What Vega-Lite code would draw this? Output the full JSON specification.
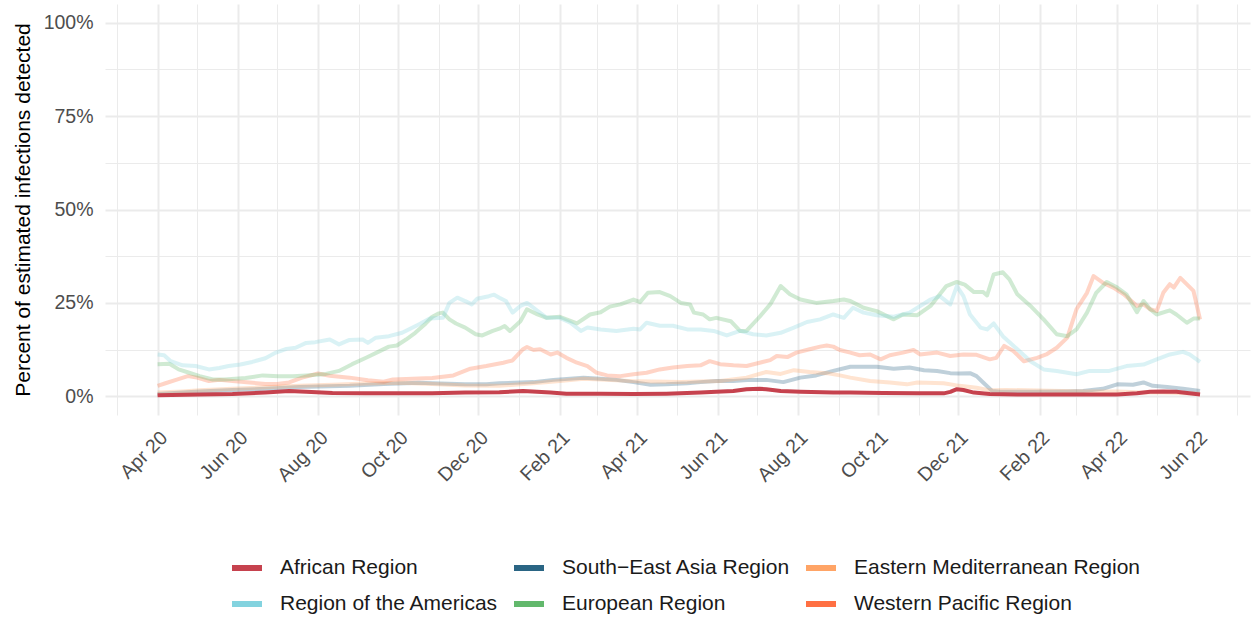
{
"$schema":"https://vega.github.io/schema/vega-lite/v6.json",
"autosize":{"type":"none"},
"padding":{"left":105,"top":4,"right":2,"bottom":202},
"width":1145,"height":411,
"config":{"font":"Liberation Sans","view":{"stroke":null}},
"data":{"values":[
{"d":"2020-04-01","r":"African Region","v":0.3},{"d":"2020-05-03","r":"African Region","v":0.5},{"d":"2020-05-28","r":"African Region","v":0.6},{"d":"2020-06-22","r":"African Region","v":1.0},{"d":"2020-07-10","r":"African Region","v":1.4},{"d":"2020-07-23","r":"African Region","v":1.2},{"d":"2020-08-12","r":"African Region","v":0.9},{"d":"2020-09-06","r":"African Region","v":0.8},{"d":"2020-10-02","r":"African Region","v":0.8},{"d":"2020-10-27","r":"African Region","v":0.8},{"d":"2020-11-21","r":"African Region","v":1.0},{"d":"2020-12-17","r":"African Region","v":1.1},{"d":"2021-01-04","r":"African Region","v":1.4},{"d":"2021-01-25","r":"African Region","v":1.0},{"d":"2021-02-06","r":"African Region","v":0.7},{"d":"2021-03-04","r":"African Region","v":0.7},{"d":"2021-03-29","r":"African Region","v":0.6},{"d":"2021-04-23","r":"African Region","v":0.7},{"d":"2021-05-19","r":"African Region","v":1.0},{"d":"2021-05-31","r":"African Region","v":1.2},{"d":"2021-06-13","r":"African Region","v":1.4},{"d":"2021-06-23","r":"African Region","v":1.9},{"d":"2021-07-03","r":"African Region","v":2.0},{"d":"2021-07-08","r":"African Region","v":1.9},{"d":"2021-07-19","r":"African Region","v":1.4},{"d":"2021-08-03","r":"African Region","v":1.2},{"d":"2021-08-28","r":"African Region","v":1.0},{"d":"2021-09-10","r":"African Region","v":1.0},{"d":"2021-10-05","r":"African Region","v":0.9},{"d":"2021-10-31","r":"African Region","v":0.8},{"d":"2021-11-20","r":"African Region","v":0.8},{"d":"2021-11-25","r":"African Region","v":1.2},{"d":"2021-11-30","r":"African Region","v":1.9},{"d":"2021-12-05","r":"African Region","v":1.7},{"d":"2021-12-13","r":"African Region","v":1.0},{"d":"2021-12-25","r":"African Region","v":0.6},{"d":"2022-01-15","r":"African Region","v":0.5},{"d":"2022-02-09","r":"African Region","v":0.5},{"d":"2022-03-06","r":"African Region","v":0.5},{"d":"2022-04-01","r":"African Region","v":0.5},{"d":"2022-04-16","r":"African Region","v":0.8},{"d":"2022-04-26","r":"African Region","v":1.2},{"d":"2022-05-06","r":"African Region","v":1.3},{"d":"2022-05-16","r":"African Region","v":1.2},{"d":"2022-06-03","r":"African Region","v":0.5},
{"d":"2020-04-01","r":"South−East Asia Region","v":0.6},{"d":"2020-05-03","r":"South−East Asia Region","v":1.3},{"d":"2020-05-28","r":"South−East Asia Region","v":1.7},{"d":"2020-06-22","r":"South−East Asia Region","v":2.0},{"d":"2020-07-18","r":"South−East Asia Region","v":2.5},{"d":"2020-08-25","r":"South−East Asia Region","v":2.8},{"d":"2020-09-20","r":"South−East Asia Region","v":3.3},{"d":"2020-10-17","r":"South−East Asia Region","v":3.6},{"d":"2020-10-27","r":"South−East Asia Region","v":3.5},{"d":"2020-11-21","r":"South−East Asia Region","v":3.2},{"d":"2020-12-07","r":"South−East Asia Region","v":3.2},{"d":"2020-12-17","r":"South−East Asia Region","v":3.5},{"d":"2021-01-12","r":"South−East Asia Region","v":3.8},{"d":"2021-01-27","r":"South−East Asia Region","v":4.4},{"d":"2021-02-19","r":"South−East Asia Region","v":5.0},{"d":"2021-03-04","r":"South−East Asia Region","v":4.7},{"d":"2021-03-16","r":"South−East Asia Region","v":4.4},{"d":"2021-03-29","r":"South−East Asia Region","v":3.8},{"d":"2021-04-11","r":"South−East Asia Region","v":3.1},{"d":"2021-04-23","r":"South−East Asia Region","v":3.2},{"d":"2021-05-09","r":"South−East Asia Region","v":3.5},{"d":"2021-05-19","r":"South−East Asia Region","v":3.8},{"d":"2021-05-31","r":"South−East Asia Region","v":4.1},{"d":"2021-06-13","r":"South−East Asia Region","v":4.1},{"d":"2021-06-26","r":"South−East Asia Region","v":4.4},{"d":"2021-07-08","r":"South−East Asia Region","v":4.4},{"d":"2021-07-21","r":"South−East Asia Region","v":3.8},{"d":"2021-08-03","r":"South−East Asia Region","v":5.0},{"d":"2021-08-15","r":"South−East Asia Region","v":5.6},{"d":"2021-08-28","r":"South−East Asia Region","v":6.8},{"d":"2021-09-10","r":"South−East Asia Region","v":7.9},{"d":"2021-09-30","r":"South−East Asia Region","v":7.9},{"d":"2021-10-13","r":"South−East Asia Region","v":7.4},{"d":"2021-10-25","r":"South−East Asia Region","v":7.7},{"d":"2021-11-05","r":"South−East Asia Region","v":7.0},{"d":"2021-11-15","r":"South−East Asia Region","v":6.8},{"d":"2021-11-25","r":"South−East Asia Region","v":6.2},{"d":"2021-12-02","r":"South−East Asia Region","v":6.1},{"d":"2021-12-10","r":"South−East Asia Region","v":6.2},{"d":"2021-12-15","r":"South−East Asia Region","v":5.4},{"d":"2021-12-20","r":"South−East Asia Region","v":3.7},{"d":"2021-12-27","r":"South−East Asia Region","v":1.4},{"d":"2022-01-02","r":"South−East Asia Region","v":1.2},{"d":"2022-01-27","r":"South−East Asia Region","v":1.2},{"d":"2022-02-22","r":"South−East Asia Region","v":1.3},{"d":"2022-03-06","r":"South−East Asia Region","v":1.4},{"d":"2022-03-21","r":"South−East Asia Region","v":2.0},{"d":"2022-04-01","r":"South−East Asia Region","v":3.2},{"d":"2022-04-13","r":"South−East Asia Region","v":3.1},{"d":"2022-04-21","r":"South−East Asia Region","v":3.7},{"d":"2022-04-28","r":"South−East Asia Region","v":2.8},{"d":"2022-05-09","r":"South−East Asia Region","v":2.5},{"d":"2022-05-21","r":"South−East Asia Region","v":2.0},{"d":"2022-06-03","r":"South−East Asia Region","v":1.4},
{"d":"2020-04-01","r":"Eastern Mediterranean Region","v":1.0},{"d":"2020-04-20","r":"Eastern Mediterranean Region","v":1.3},{"d":"2020-05-03","r":"Eastern Mediterranean Region","v":1.6},{"d":"2020-05-28","r":"Eastern Mediterranean Region","v":2.0},{"d":"2020-06-22","r":"Eastern Mediterranean Region","v":2.4},{"d":"2020-07-18","r":"Eastern Mediterranean Region","v":2.8},{"d":"2020-08-12","r":"Eastern Mediterranean Region","v":3.1},{"d":"2020-09-06","r":"Eastern Mediterranean Region","v":3.4},{"d":"2020-10-02","r":"Eastern Mediterranean Region","v":3.6},{"d":"2020-10-27","r":"Eastern Mediterranean Region","v":3.3},{"d":"2020-11-21","r":"Eastern Mediterranean Region","v":2.9},{"d":"2020-12-17","r":"Eastern Mediterranean Region","v":2.8},{"d":"2021-01-12","r":"Eastern Mediterranean Region","v":3.5},{"d":"2021-02-01","r":"Eastern Mediterranean Region","v":4.1},{"d":"2021-02-19","r":"Eastern Mediterranean Region","v":4.7},{"d":"2021-03-04","r":"Eastern Mediterranean Region","v":4.5},{"d":"2021-04-01","r":"Eastern Mediterranean Region","v":4.0},{"d":"2021-05-04","r":"Eastern Mediterranean Region","v":3.8},{"d":"2021-06-03","r":"Eastern Mediterranean Region","v":4.1},{"d":"2021-06-23","r":"Eastern Mediterranean Region","v":5.0},{"d":"2021-07-08","r":"Eastern Mediterranean Region","v":6.5},{"d":"2021-07-19","r":"Eastern Mediterranean Region","v":6.0},{"d":"2021-07-29","r":"Eastern Mediterranean Region","v":7.0},{"d":"2021-08-10","r":"Eastern Mediterranean Region","v":6.5},{"d":"2021-08-23","r":"Eastern Mediterranean Region","v":6.2},{"d":"2021-09-02","r":"Eastern Mediterranean Region","v":5.6},{"d":"2021-09-10","r":"Eastern Mediterranean Region","v":5.0},{"d":"2021-09-25","r":"Eastern Mediterranean Region","v":4.1},{"d":"2021-10-10","r":"Eastern Mediterranean Region","v":3.7},{"d":"2021-10-23","r":"Eastern Mediterranean Region","v":3.2},{"d":"2021-10-31","r":"Eastern Mediterranean Region","v":3.7},{"d":"2021-11-20","r":"Eastern Mediterranean Region","v":3.5},{"d":"2021-12-02","r":"Eastern Mediterranean Region","v":2.8},{"d":"2021-12-15","r":"Eastern Mediterranean Region","v":2.3},{"d":"2021-12-25","r":"Eastern Mediterranean Region","v":1.6},{"d":"2022-01-07","r":"Eastern Mediterranean Region","v":1.7},{"d":"2022-02-09","r":"Eastern Mediterranean Region","v":1.5},{"d":"2022-03-09","r":"Eastern Mediterranean Region","v":1.3},{"d":"2022-04-01","r":"Eastern Mediterranean Region","v":1.3},{"d":"2022-04-21","r":"Eastern Mediterranean Region","v":1.0},{"d":"2022-05-06","r":"Eastern Mediterranean Region","v":1.0},{"d":"2022-06-03","r":"Eastern Mediterranean Region","v":0.7},
{"d":"2020-04-01","r":"Western Pacific Region","v":2.8},{"d":"2020-04-07","r":"Western Pacific Region","v":3.5},{"d":"2020-04-15","r":"Western Pacific Region","v":4.4},{"d":"2020-04-24","r":"Western Pacific Region","v":5.4},{"d":"2020-05-01","r":"Western Pacific Region","v":5.0},{"d":"2020-05-10","r":"Western Pacific Region","v":4.1},{"d":"2020-05-18","r":"Western Pacific Region","v":4.4},{"d":"2020-05-28","r":"Western Pacific Region","v":4.1},{"d":"2020-06-10","r":"Western Pacific Region","v":3.7},{"d":"2020-06-22","r":"Western Pacific Region","v":3.3},{"d":"2020-07-01","r":"Western Pacific Region","v":3.3},{"d":"2020-07-10","r":"Western Pacific Region","v":3.7},{"d":"2020-07-20","r":"Western Pacific Region","v":5.0},{"d":"2020-08-01","r":"Western Pacific Region","v":6.1},{"d":"2020-08-10","r":"Western Pacific Region","v":5.5},{"d":"2020-08-25","r":"Western Pacific Region","v":5.0},{"d":"2020-09-08","r":"Western Pacific Region","v":4.3},{"d":"2020-09-20","r":"Western Pacific Region","v":3.9},{"d":"2020-09-27","r":"Western Pacific Region","v":4.5},{"d":"2020-10-12","r":"Western Pacific Region","v":4.7},{"d":"2020-10-27","r":"Western Pacific Region","v":4.9},{"d":"2020-11-12","r":"Western Pacific Region","v":5.6},{"d":"2020-11-25","r":"Western Pacific Region","v":7.4},{"d":"2020-12-07","r":"Western Pacific Region","v":8.1},{"d":"2020-12-20","r":"Western Pacific Region","v":9.0},{"d":"2020-12-27","r":"Western Pacific Region","v":9.6},{"d":"2021-01-04","r":"Western Pacific Region","v":12.6},{"d":"2021-01-07","r":"Western Pacific Region","v":13.2},{"d":"2021-01-12","r":"Western Pacific Region","v":12.4},{"d":"2021-01-17","r":"Western Pacific Region","v":12.6},{"d":"2021-01-25","r":"Western Pacific Region","v":11.2},{"d":"2021-01-30","r":"Western Pacific Region","v":11.7},{"d":"2021-02-06","r":"Western Pacific Region","v":10.3},{"d":"2021-02-14","r":"Western Pacific Region","v":9.0},{"d":"2021-02-22","r":"Western Pacific Region","v":8.1},{"d":"2021-03-01","r":"Western Pacific Region","v":6.3},{"d":"2021-03-09","r":"Western Pacific Region","v":5.6},{"d":"2021-03-19","r":"Western Pacific Region","v":5.4},{"d":"2021-03-29","r":"Western Pacific Region","v":5.9},{"d":"2021-04-08","r":"Western Pacific Region","v":6.3},{"d":"2021-04-18","r":"Western Pacific Region","v":7.2},{"d":"2021-04-28","r":"Western Pacific Region","v":7.7},{"d":"2021-05-09","r":"Western Pacific Region","v":8.1},{"d":"2021-05-19","r":"Western Pacific Region","v":8.3},{"d":"2021-05-26","r":"Western Pacific Region","v":9.4},{"d":"2021-06-03","r":"Western Pacific Region","v":8.6},{"d":"2021-06-13","r":"Western Pacific Region","v":8.3},{"d":"2021-06-23","r":"Western Pacific Region","v":8.1},{"d":"2021-07-03","r":"Western Pacific Region","v":9.0},{"d":"2021-07-11","r":"Western Pacific Region","v":9.7},{"d":"2021-07-16","r":"Western Pacific Region","v":10.8},{"d":"2021-07-24","r":"Western Pacific Region","v":10.5},{"d":"2021-07-31","r":"Western Pacific Region","v":11.7},{"d":"2021-08-10","r":"Western Pacific Region","v":12.6},{"d":"2021-08-18","r":"Western Pacific Region","v":13.3},{"d":"2021-08-23","r":"Western Pacific Region","v":13.6},{"d":"2021-08-28","r":"Western Pacific Region","v":13.3},{"d":"2021-09-02","r":"Western Pacific Region","v":12.4},{"d":"2021-09-10","r":"Western Pacific Region","v":11.7},{"d":"2021-09-17","r":"Western Pacific Region","v":11.0},{"d":"2021-09-25","r":"Western Pacific Region","v":11.2},{"d":"2021-10-03","r":"Western Pacific Region","v":9.9},{"d":"2021-10-10","r":"Western Pacific Region","v":11.0},{"d":"2021-10-20","r":"Western Pacific Region","v":11.7},{"d":"2021-10-28","r":"Western Pacific Region","v":12.4},{"d":"2021-11-02","r":"Western Pacific Region","v":11.2},{"d":"2021-11-15","r":"Western Pacific Region","v":11.7},{"d":"2021-11-25","r":"Western Pacific Region","v":10.8},{"d":"2021-12-05","r":"Western Pacific Region","v":11.2},{"d":"2021-12-15","r":"Western Pacific Region","v":11.1},{"d":"2021-12-25","r":"Western Pacific Region","v":9.9},{"d":"2021-12-30","r":"Western Pacific Region","v":10.3},{"d":"2022-01-05","r":"Western Pacific Region","v":13.5},{"d":"2022-01-12","r":"Western Pacific Region","v":12.1},{"d":"2022-01-20","r":"Western Pacific Region","v":9.4},{"d":"2022-01-30","r":"Western Pacific Region","v":10.3},{"d":"2022-02-06","r":"Western Pacific Region","v":11.2},{"d":"2022-02-14","r":"Western Pacific Region","v":13.0},{"d":"2022-02-22","r":"Western Pacific Region","v":15.7},{"d":"2022-03-01","r":"Western Pacific Region","v":23.3},{"d":"2022-03-09","r":"Western Pacific Region","v":27.7},{"d":"2022-03-14","r":"Western Pacific Region","v":32.2},{"d":"2022-03-21","r":"Western Pacific Region","v":30.4},{"d":"2022-03-29","r":"Western Pacific Region","v":29.1},{"d":"2022-04-06","r":"Western Pacific Region","v":27.3},{"d":"2022-04-16","r":"Western Pacific Region","v":24.2},{"d":"2022-04-21","r":"Western Pacific Region","v":24.6},{"d":"2022-04-26","r":"Western Pacific Region","v":23.3},{"d":"2022-05-01","r":"Western Pacific Region","v":22.8},{"d":"2022-05-06","r":"Western Pacific Region","v":27.7},{"d":"2022-05-11","r":"Western Pacific Region","v":30.0},{"d":"2022-05-14","r":"Western Pacific Region","v":29.1},{"d":"2022-05-19","r":"Western Pacific Region","v":31.7},{"d":"2022-05-29","r":"Western Pacific Region","v":28.2},{"d":"2022-06-03","r":"Western Pacific Region","v":20.6},
{"d":"2020-04-01","r":"European Region","v":8.6},{"d":"2020-04-10","r":"European Region","v":8.7},{"d":"2020-04-17","r":"European Region","v":7.2},{"d":"2020-04-25","r":"European Region","v":6.3},{"d":"2020-05-03","r":"European Region","v":5.4},{"d":"2020-05-13","r":"European Region","v":4.5},{"d":"2020-05-22","r":"European Region","v":4.5},{"d":"2020-06-07","r":"European Region","v":4.9},{"d":"2020-06-20","r":"European Region","v":5.6},{"d":"2020-07-02","r":"European Region","v":5.4},{"d":"2020-07-13","r":"European Region","v":5.4},{"d":"2020-07-23","r":"European Region","v":5.6},{"d":"2020-08-07","r":"European Region","v":6.0},{"d":"2020-08-17","r":"European Region","v":6.8},{"d":"2020-08-27","r":"European Region","v":8.6},{"d":"2020-09-07","r":"European Region","v":10.4},{"d":"2020-09-17","r":"European Region","v":12.1},{"d":"2020-09-24","r":"European Region","v":13.3},{"d":"2020-09-30","r":"European Region","v":13.6},{"d":"2020-10-07","r":"European Region","v":15.2},{"d":"2020-10-14","r":"European Region","v":17.0},{"d":"2020-10-22","r":"European Region","v":19.5},{"d":"2020-10-27","r":"European Region","v":21.3},{"d":"2020-11-01","r":"European Region","v":22.2},{"d":"2020-11-04","r":"European Region","v":22.4},{"d":"2020-11-09","r":"European Region","v":20.6},{"d":"2020-11-14","r":"European Region","v":19.5},{"d":"2020-11-21","r":"European Region","v":18.4},{"d":"2020-11-29","r":"European Region","v":16.6},{"d":"2020-12-04","r":"European Region","v":16.3},{"d":"2020-12-12","r":"European Region","v":17.5},{"d":"2020-12-17","r":"European Region","v":18.1},{"d":"2020-12-21","r":"European Region","v":18.8},{"d":"2020-12-25","r":"European Region","v":17.5},{"d":"2021-01-02","r":"European Region","v":20.1},{"d":"2021-01-07","r":"European Region","v":23.3},{"d":"2021-01-15","r":"European Region","v":21.9},{"d":"2021-01-22","r":"European Region","v":21.0},{"d":"2021-02-01","r":"European Region","v":21.3},{"d":"2021-02-06","r":"European Region","v":20.6},{"d":"2021-02-14","r":"European Region","v":19.5},{"d":"2021-02-24","r":"European Region","v":21.9},{"d":"2021-03-04","r":"European Region","v":22.5},{"d":"2021-03-11","r":"European Region","v":24.0},{"d":"2021-03-19","r":"European Region","v":24.6},{"d":"2021-03-29","r":"European Region","v":25.9},{"d":"2021-04-03","r":"European Region","v":25.2},{"d":"2021-04-09","r":"European Region","v":27.7},{"d":"2021-04-18","r":"European Region","v":27.9},{"d":"2021-04-26","r":"European Region","v":26.8},{"d":"2021-05-04","r":"European Region","v":25.0},{"d":"2021-05-11","r":"European Region","v":24.6},{"d":"2021-05-14","r":"European Region","v":22.4},{"d":"2021-05-21","r":"European Region","v":21.9},{"d":"2021-05-26","r":"European Region","v":20.6},{"d":"2021-05-31","r":"European Region","v":21.0},{"d":"2021-06-11","r":"European Region","v":20.1},{"d":"2021-06-18","r":"European Region","v":17.5},{"d":"2021-06-23","r":"European Region","v":17.5},{"d":"2021-07-03","r":"European Region","v":21.3},{"d":"2021-07-11","r":"European Region","v":24.6},{"d":"2021-07-19","r":"European Region","v":29.5},{"d":"2021-07-26","r":"European Region","v":27.3},{"d":"2021-08-03","r":"European Region","v":25.9},{"d":"2021-08-15","r":"European Region","v":25.0},{"d":"2021-08-28","r":"European Region","v":25.5},{"d":"2021-09-05","r":"European Region","v":25.9},{"d":"2021-09-10","r":"European Region","v":25.5},{"d":"2021-09-20","r":"European Region","v":23.7},{"d":"2021-09-30","r":"European Region","v":22.8},{"d":"2021-10-13","r":"European Region","v":20.6},{"d":"2021-10-20","r":"European Region","v":21.9},{"d":"2021-10-31","r":"European Region","v":21.7},{"d":"2021-11-10","r":"European Region","v":24.2},{"d":"2021-11-22","r":"European Region","v":29.5},{"d":"2021-11-30","r":"European Region","v":30.6},{"d":"2021-12-06","r":"European Region","v":29.9},{"d":"2021-12-13","r":"European Region","v":27.9},{"d":"2021-12-20","r":"European Region","v":27.9},{"d":"2021-12-23","r":"European Region","v":27.0},{"d":"2021-12-28","r":"European Region","v":32.6},{"d":"2022-01-04","r":"European Region","v":33.2},{"d":"2022-01-09","r":"European Region","v":31.3},{"d":"2022-01-15","r":"European Region","v":27.3},{"d":"2022-01-25","r":"European Region","v":24.2},{"d":"2022-02-04","r":"European Region","v":20.6},{"d":"2022-02-14","r":"European Region","v":16.6},{"d":"2022-02-22","r":"European Region","v":16.1},{"d":"2022-03-01","r":"European Region","v":17.9},{"d":"2022-03-09","r":"European Region","v":22.4},{"d":"2022-03-16","r":"European Region","v":27.7},{"d":"2022-03-24","r":"European Region","v":30.6},{"d":"2022-04-01","r":"European Region","v":29.1},{"d":"2022-04-08","r":"European Region","v":27.3},{"d":"2022-04-16","r":"European Region","v":22.5},{"d":"2022-04-21","r":"European Region","v":25.5},{"d":"2022-04-26","r":"European Region","v":23.3},{"d":"2022-05-01","r":"European Region","v":21.9},{"d":"2022-05-11","r":"European Region","v":23.0},{"d":"2022-05-16","r":"European Region","v":21.9},{"d":"2022-05-24","r":"European Region","v":19.7},{"d":"2022-05-29","r":"European Region","v":20.8},{"d":"2022-06-03","r":"European Region","v":20.8},
{"d":"2020-04-01","r":"Region of the Americas","v":11.2},{"d":"2020-04-06","r":"Region of the Americas","v":11.0},{"d":"2020-04-11","r":"Region of the Americas","v":9.4},{"d":"2020-04-20","r":"Region of the Americas","v":8.3},{"d":"2020-04-30","r":"Region of the Americas","v":8.1},{"d":"2020-05-10","r":"Region of the Americas","v":7.2},{"d":"2020-05-18","r":"Region of the Americas","v":7.6},{"d":"2020-05-25","r":"Region of the Americas","v":8.1},{"d":"2020-06-03","r":"Region of the Americas","v":8.5},{"d":"2020-06-12","r":"Region of the Americas","v":9.2},{"d":"2020-06-22","r":"Region of the Americas","v":10.2},{"d":"2020-06-30","r":"Region of the Americas","v":11.7},{"d":"2020-07-08","r":"Region of the Americas","v":12.7},{"d":"2020-07-15","r":"Region of the Americas","v":13.0},{"d":"2020-07-23","r":"Region of the Americas","v":14.3},{"d":"2020-07-30","r":"Region of the Americas","v":14.5},{"d":"2020-08-10","r":"Region of the Americas","v":15.2},{"d":"2020-08-17","r":"Region of the Americas","v":13.9},{"d":"2020-08-25","r":"Region of the Americas","v":15.1},{"d":"2020-09-04","r":"Region of the Americas","v":15.2},{"d":"2020-09-08","r":"Region of the Americas","v":14.3},{"d":"2020-09-14","r":"Region of the Americas","v":15.7},{"d":"2020-09-24","r":"Region of the Americas","v":16.1},{"d":"2020-10-04","r":"Region of the Americas","v":17.0},{"d":"2020-10-09","r":"Region of the Americas","v":17.9},{"d":"2020-10-17","r":"Region of the Americas","v":19.3},{"d":"2020-10-25","r":"Region of the Americas","v":20.8},{"d":"2020-11-04","r":"Region of the Americas","v":21.0},{"d":"2020-11-09","r":"Region of the Americas","v":25.0},{"d":"2020-11-15","r":"Region of the Americas","v":26.4},{"d":"2020-11-21","r":"Region of the Americas","v":25.5},{"d":"2020-11-26","r":"Region of the Americas","v":24.6},{"d":"2020-11-30","r":"Region of the Americas","v":26.1},{"d":"2020-12-09","r":"Region of the Americas","v":26.8},{"d":"2020-12-13","r":"Region of the Americas","v":27.2},{"d":"2020-12-17","r":"Region of the Americas","v":26.4},{"d":"2020-12-22","r":"Region of the Americas","v":25.5},{"d":"2020-12-27","r":"Region of the Americas","v":22.4},{"d":"2021-01-02","r":"Region of the Americas","v":24.2},{"d":"2021-01-07","r":"Region of the Americas","v":25.0},{"d":"2021-01-12","r":"Region of the Americas","v":23.7},{"d":"2021-01-22","r":"Region of the Americas","v":21.0},{"d":"2021-02-01","r":"Region of the Americas","v":21.0},{"d":"2021-02-09","r":"Region of the Americas","v":19.7},{"d":"2021-02-17","r":"Region of the Americas","v":17.5},{"d":"2021-02-22","r":"Region of the Americas","v":18.4},{"d":"2021-03-04","r":"Region of the Americas","v":17.9},{"d":"2021-03-16","r":"Region of the Americas","v":17.5},{"d":"2021-03-29","r":"Region of the Americas","v":18.1},{"d":"2021-04-03","r":"Region of the Americas","v":17.9},{"d":"2021-04-08","r":"Region of the Americas","v":19.7},{"d":"2021-04-18","r":"Region of the Americas","v":18.9},{"d":"2021-04-28","r":"Region of the Americas","v":18.9},{"d":"2021-05-09","r":"Region of the Americas","v":17.9},{"d":"2021-05-19","r":"Region of the Americas","v":17.9},{"d":"2021-05-29","r":"Region of the Americas","v":17.5},{"d":"2021-06-08","r":"Region of the Americas","v":16.3},{"d":"2021-06-18","r":"Region of the Americas","v":17.5},{"d":"2021-06-28","r":"Region of the Americas","v":16.6},{"d":"2021-07-08","r":"Region of the Americas","v":16.3},{"d":"2021-07-19","r":"Region of the Americas","v":17.0},{"d":"2021-07-29","r":"Region of the Americas","v":18.4},{"d":"2021-08-08","r":"Region of the Americas","v":19.9},{"d":"2021-08-18","r":"Region of the Americas","v":20.6},{"d":"2021-08-28","r":"Region of the Americas","v":21.9},{"d":"2021-09-05","r":"Region of the Americas","v":21.0},{"d":"2021-09-12","r":"Region of the Americas","v":23.7},{"d":"2021-09-20","r":"Region of the Americas","v":22.4},{"d":"2021-09-30","r":"Region of the Americas","v":21.7},{"d":"2021-10-13","r":"Region of the Americas","v":21.3},{"d":"2021-10-25","r":"Region of the Americas","v":22.4},{"d":"2021-11-10","r":"Region of the Americas","v":25.9},{"d":"2021-11-17","r":"Region of the Americas","v":26.8},{"d":"2021-11-25","r":"Region of the Americas","v":24.6},{"d":"2021-11-30","r":"Region of the Americas","v":29.5},{"d":"2021-12-05","r":"Region of the Americas","v":26.8},{"d":"2021-12-10","r":"Region of the Americas","v":21.9},{"d":"2021-12-18","r":"Region of the Americas","v":18.4},{"d":"2021-12-23","r":"Region of the Americas","v":17.9},{"d":"2021-12-28","r":"Region of the Americas","v":19.5},{"d":"2022-01-04","r":"Region of the Americas","v":16.1},{"d":"2022-01-15","r":"Region of the Americas","v":12.6},{"d":"2022-01-25","r":"Region of the Americas","v":9.4},{"d":"2022-02-04","r":"Region of the Americas","v":7.2},{"d":"2022-02-14","r":"Region of the Americas","v":6.8},{"d":"2022-03-01","r":"Region of the Americas","v":5.9},{"d":"2022-03-11","r":"Region of the Americas","v":6.8},{"d":"2022-03-26","r":"Region of the Americas","v":6.8},{"d":"2022-04-08","r":"Region of the Americas","v":8.1},{"d":"2022-04-21","r":"Region of the Americas","v":8.5},{"d":"2022-05-01","r":"Region of the Americas","v":9.9},{"d":"2022-05-11","r":"Region of the Americas","v":11.2},{"d":"2022-05-21","r":"Region of the Americas","v":11.9},{"d":"2022-05-26","r":"Region of the Americas","v":11.2},{"d":"2022-06-03","r":"Region of the Americas","v":9.2}
]},
"encoding":{
"x":{"field":"d","type":"temporal","title":null,
"scale":{"type":"utc","domain":[{"year":2020,"month":2,"date":21,"utc":true},{"year":2022,"month":7,"date":11,"utc":true}]},
"axis":{"domain":false,"ticks":false,"tickSize":0,"labelOverlap":false,"labelBound":false,"labelFlush":false,
"values":[{"year":2020,"month":3,"date":1,"utc":true},{"year":2020,"month":4,"date":1,"utc":true},{"year":2020,"month":5,"date":1,"utc":true},{"year":2020,"month":6,"date":1,"utc":true},{"year":2020,"month":7,"date":1,"utc":true},{"year":2020,"month":8,"date":1,"utc":true},{"year":2020,"month":9,"date":1,"utc":true},{"year":2020,"month":10,"date":1,"utc":true},{"year":2020,"month":11,"date":1,"utc":true},{"year":2020,"month":12,"date":1,"utc":true},{"year":2021,"month":1,"date":1,"utc":true},{"year":2021,"month":2,"date":1,"utc":true},{"year":2021,"month":3,"date":1,"utc":true},{"year":2021,"month":4,"date":1,"utc":true},{"year":2021,"month":5,"date":1,"utc":true},{"year":2021,"month":6,"date":1,"utc":true},{"year":2021,"month":7,"date":1,"utc":true},{"year":2021,"month":8,"date":1,"utc":true},{"year":2021,"month":9,"date":1,"utc":true},{"year":2021,"month":10,"date":1,"utc":true},{"year":2021,"month":11,"date":1,"utc":true},{"year":2021,"month":12,"date":1,"utc":true},{"year":2022,"month":1,"date":1,"utc":true},{"year":2022,"month":2,"date":1,"utc":true},{"year":2022,"month":3,"date":1,"utc":true},{"year":2022,"month":4,"date":1,"utc":true},{"year":2022,"month":5,"date":1,"utc":true},{"year":2022,"month":6,"date":1,"utc":true},{"year":2022,"month":7,"date":1,"utc":true}],
"labelExpr":"utcmonth(datum.value) % 2 == 1 ? utcFormat(datum.value, '%b %y') : ''",
"labelAngle":-45,"labelAlign":"right","labelBaseline":"top","labelPadding":13,
"labelFont":"Liberation Sans","labelFontSize":19.5,"labelColor":"#4D4D4D",
"gridColor":"#EBEBEB","gridWidth":{"condition":{"test":"utcmonth(datum.value) % 2 == 1","value":2},"value":1}}},
"y":{"field":"v","type":"quantitative","title":"Percent of estimated infections detected",
"scale":{"domain":[-5,105],"nice":false,"zero":false},
"axis":{"domain":false,"ticks":false,"tickSize":0,"values":[0,12.5,25,37.5,50,62.5,75,87.5,100],
"labelExpr":"datum.value % 25 == 0 ? datum.value + '%' : ''","labelPadding":12,
"labelFont":"Liberation Sans","labelFontSize":19.5,"labelColor":"#4D4D4D",
"titleFont":"Liberation Sans","titleFontSize":21,"titleFontWeight":"normal","titleColor":"#000000","titlePadding":10,
"gridColor":"#EBEBEB","gridWidth":{"condition":{"test":"datum.value % 25 == 0","value":2},"value":1}}},
"color":{"field":"r","type":"nominal",
"scale":{"domain":["African Region","Region of the Americas","South−East Asia Region","European Region","Eastern Mediterranean Region","Western Pacific Region"],
"range":["#C6424E","#83D3DF","#2A6584","#62B86C","#FFA466","#FF7043"]},
"legend":{"orient":"none","legendX":124,"legendY":546,"columns":3,"title":null,"symbolType":"stroke","symbolSize":900,"symbolStrokeWidth":6,"symbolOpacity":1,
"labelFont":"Liberation Sans","labelFontSize":21,"labelColor":"#1A1A1A","labelOffset":15,"labelLimit":400,"columnPadding":3,"rowPadding":6}}
},
"layer":[
{"transform":[{"filter":"datum.r != 'African Region'"}],"mark":{"type":"line","strokeWidth":4,"opacity":0.3,"strokeCap":"butt","strokeJoin":"round"}},
{"transform":[{"filter":"datum.r == 'African Region'"}],"mark":{"type":"line","strokeWidth":4,"opacity":1,"strokeCap":"butt","strokeJoin":"round"}}
]
}
